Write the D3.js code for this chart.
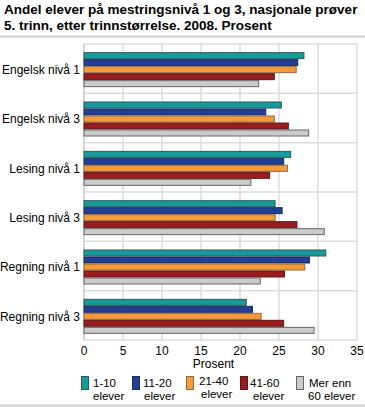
<!DOCTYPE html>
<html><head><meta charset="utf-8">
<script src="https://cdn.jsdelivr.net/npm/d3@7"></script>
<style>body{margin:0;background:#fff;font-family:Arial,"Liberation Sans",sans-serif}</style>
</head><body><svg id="c" width="365" height="407"></svg>
<script>
const categories = ["Engelsk nivå 1","Engelsk nivå 3","Lesing nivå 1","Lesing nivå 3","Regning nivå 1","Regning nivå 3"];
const seriesNames = [["1-10","elever"],["11-20","elever"],["21-40","elever"],["41-60","elever"],["Mer enn","60 elever"]];
const s1_10 = [28.2,25.3,26.5,24.5,31.0,20.8];
const s11_20 = [27.4,23.3,25.6,25.4,28.9,21.6];
const s21_40 = [27.2,24.4,26.1,24.5,28.3,22.7];
const s41_60 = [24.4,26.2,23.8,27.3,25.7,25.6];
const s60 = [22.4,28.8,21.4,30.8,22.6,29.5];
const tickValues = [0,5,10,15,20,25,30,35];
const colors = ["#169b9b","#223f93","#f89a38","#9b1b1f","#cbcbcb"];
const strokes = ["#2f5a5a","#1d2c5e","#8a6a4a","#5a1a1a","#666666"];
const series = [s1_10,s11_20,s21_40,s41_60,s60];

const svg = d3.select("#c");
const m = {left:84, right:357, top:44, bottom:340};
const x = d3.scaleLinear().domain([0,35]).range([m.left,m.right]);
const y = d3.scaleBand().domain(categories).range([m.top,m.bottom]);
const inner = d3.scaleBand().domain(d3.range(5)).range([0,35]);

// title
const t = svg.append("text").attr("font-weight","bold").attr("font-size",13.5).attr("fill","#000");
t.append("tspan").attr("x",4).attr("y",13.5).text("Andel elever på mestringsnivå 1 og 3, nasjonale prøver");
t.append("tspan").attr("x",4).attr("y",29.5).text("5. trinn, etter trinnstørrelse. 2008. Prosent");
svg.append("line").attr("x1",0).attr("x2",365).attr("y1",36.5).attr("y2",36.5).attr("stroke","#d0d0d0").attr("stroke-width",2);
svg.append("line").attr("x1",0).attr("x2",365).attr("y1",405.5).attr("y2",405.5).attr("stroke","#d0d0d0").attr("stroke-width",2);

// grid
svg.append("g").selectAll("line").data(tickValues).join("line")
  .attr("x1",d=>x(d)).attr("x2",d=>x(d)).attr("y1",m.top).attr("y2",m.bottom)
  .attr("stroke","#dcdcdc").attr("stroke-width",1.5);
svg.append("g").selectAll("line").data(categories.concat(["__end"])).join("line")
  .attr("x1",m.left).attr("x2",m.right)
  .attr("y1",(d,i)=>m.top+i*y.step()).attr("y2",(d,i)=>m.top+i*y.step())
  .attr("stroke","#dcdcdc").attr("stroke-width",1.5);
svg.append("line").attr("x1",m.left).attr("x2",m.left).attr("y1",m.top).attr("y2",m.bottom).attr("stroke","#cfcfcf").attr("stroke-width",1.5);

// bars
const off = (y.bandwidth()-35)/2 + 1;
series.forEach((s,k)=>{
  svg.append("g").selectAll("rect").data(s).join("rect")
    .attr("x",x(0)).attr("y",(d,i)=>y(categories[i])+off+inner(k)+0.5)
    .attr("width",d=>x(d)-x(0)).attr("height",inner.bandwidth()-1)
    .attr("fill",colors[k]).attr("stroke",strokes[k]).attr("stroke-width",1);
});

// y labels
svg.append("g").selectAll("text").data(categories).join("text")
  .attr("x",m.left-4).attr("y",d=>y(d)+y.bandwidth()/2+1).attr("dy","0.35em")
  .attr("text-anchor","end").attr("font-size",12).text(d=>d);

// x axis labels
svg.append("g").selectAll("text").data(tickValues).join("text")
  .attr("x",d=>x(d)).attr("y",355).attr("text-anchor","middle").attr("font-size",12).text(d=>d);
svg.append("text").attr("x",x(17.5)-7).attr("y",367.5).attr("text-anchor","middle").attr("font-size",12).text("Prosent");

// legend
const lx = [81,132,186,240,296];
const lt1 = [12,11,13,10,13];
const lt2 = [12,12,15,13,12];
seriesNames.forEach((n,k)=>{
  const g = svg.append("g").attr("transform",`translate(${lx[k]},376)`);
  g.append("rect").attr("x",0.5).attr("y",0.5).attr("width",7).attr("height",13).attr("fill",colors[k]).attr("stroke",strokes[k]);
  g.append("text").attr("font-size",11.5).attr("x",lt1[k]).attr("y",k===2?9:10.5).text(n[0]);
  g.append("text").attr("font-size",11.5).attr("x",lt2[k]).attr("y",k===2?22.3:23.8).text(n[1]);
});
</script></body></html>
